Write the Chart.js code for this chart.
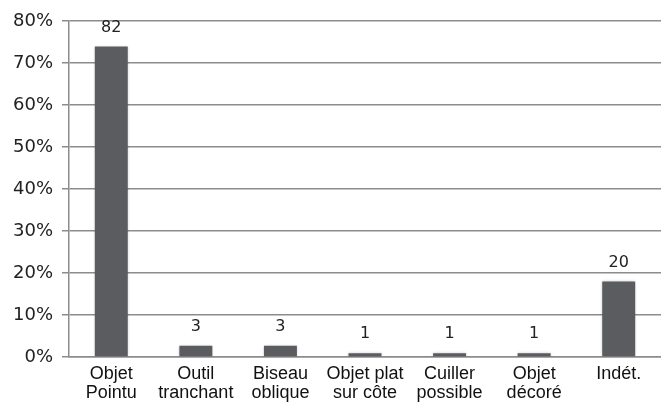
<!DOCTYPE html>
<html>
<head>
<meta charset="utf-8">
<script src="https://cdn.jsdelivr.net/npm/chart.js@4"></script>
<style>
  html, body { margin: 0; padding: 0; background: #fff; }
  #wrap { width: 661px; height: 403px; }
</style>
</head>
<body>
<div id="wrap"><canvas id="barChart" width="661" height="403"></canvas></div>
<script>
// ========== DATA ========== //
const categories = [
  ["Objet", "Pointu"],
  ["Outil", "tranchant"],
  ["Biseau", "oblique"],
  ["Objet plat", "sur côte"],
  ["Cuiller", "possible"],
  ["Objet", "décoré"],
  ["Indét."]
];
const percentValues = [73.9, 2.7, 2.7, 0.9, 0.9, 0.9, 18.0];
const countLabels = [82, 3, 3, 1, 1, 1, 20];
const yTicks = [0, 10, 20, 30, 40, 50, 60, 70, 80];

// ========== PLUGINS ========== //
// soft glow behind bars
const barShadow = {
  id: "barShadow",
  beforeDatasetsDraw(chart) {
    const ctx = chart.ctx;
    ctx.save();
    ctx.shadowColor = "rgba(0,0,0,0.25)";
    ctx.shadowBlur = 3;
    ctx.shadowOffsetX = 0;
    ctx.shadowOffsetY = 0;
  },
  afterDatasetsDraw(chart) {
    chart.ctx.restore();
  }
};

// count labels above each bar
const countLabelPlugin = {
  id: "countLabels",
  afterDatasetsDraw(chart) {
    const ctx = chart.ctx;
    const meta = chart.getDatasetMeta(0);
    ctx.save();
    ctx.font = "16px 'DejaVu Sans'";
    ctx.fillStyle = "#222";
    ctx.textAlign = "center";
    ctx.textBaseline = "middle";
    meta.data.forEach((bar, i) => {
      ctx.fillText(String(countLabels[i]), bar.x, bar.y - 19);
    });
    ctx.restore();
  }
};

// ========== BAR CHART ========== //
const ctx = document.getElementById("barChart").getContext("2d");

new Chart(ctx, {
  type: "bar",
  data: {
    labels: categories,
    datasets: [{
      data: percentValues,
      backgroundColor: "#5b5c60",
      borderWidth: 0,
      categoryPercentage: 1,
      barPercentage: 0.39
    }]
  },
  options: {
    responsive: false,
    animation: false,
    layout: { padding: { top: 21, right: 0, bottom: 0, left: 0 } },
    plugins: {
      legend: { display: false },
      tooltip: { enabled: false }
    },
    scales: {
      x: {
        offset: true,
        grid: { display: false },
        border: { color: "#8c8c8c", width: 1.5 },
        ticks: {
          color: "#111",
          font: { family: "'Liberation Sans', Arial", size: 18, lineHeight: 1.05 },
          maxRotation: 0,
          autoSkip: false,
          padding: 0
        },
        afterFit(scale) { scale.height = 46; }
      },
      y: {
        min: 0,
        max: 80,
        afterBuildTicks(scale) {
          scale.ticks = yTicks.map(v => ({ value: v }));
        },
        grid: {
          color: "#8c8c8c",
          lineWidth: 1.5,
          tickLength: 7,
          drawTicks: true
        },
        border: { color: "#8c8c8c", width: 1.5 },
        ticks: {
          color: "#222",
          font: { family: "'DejaVu Sans'", size: 18 },
          padding: 9,
          callback: v => v + "%"
        },
        afterFit(scale) { scale.width = 69; }
      }
    }
  },
  plugins: [barShadow, countLabelPlugin]
});
</script>
</body>
</html>
